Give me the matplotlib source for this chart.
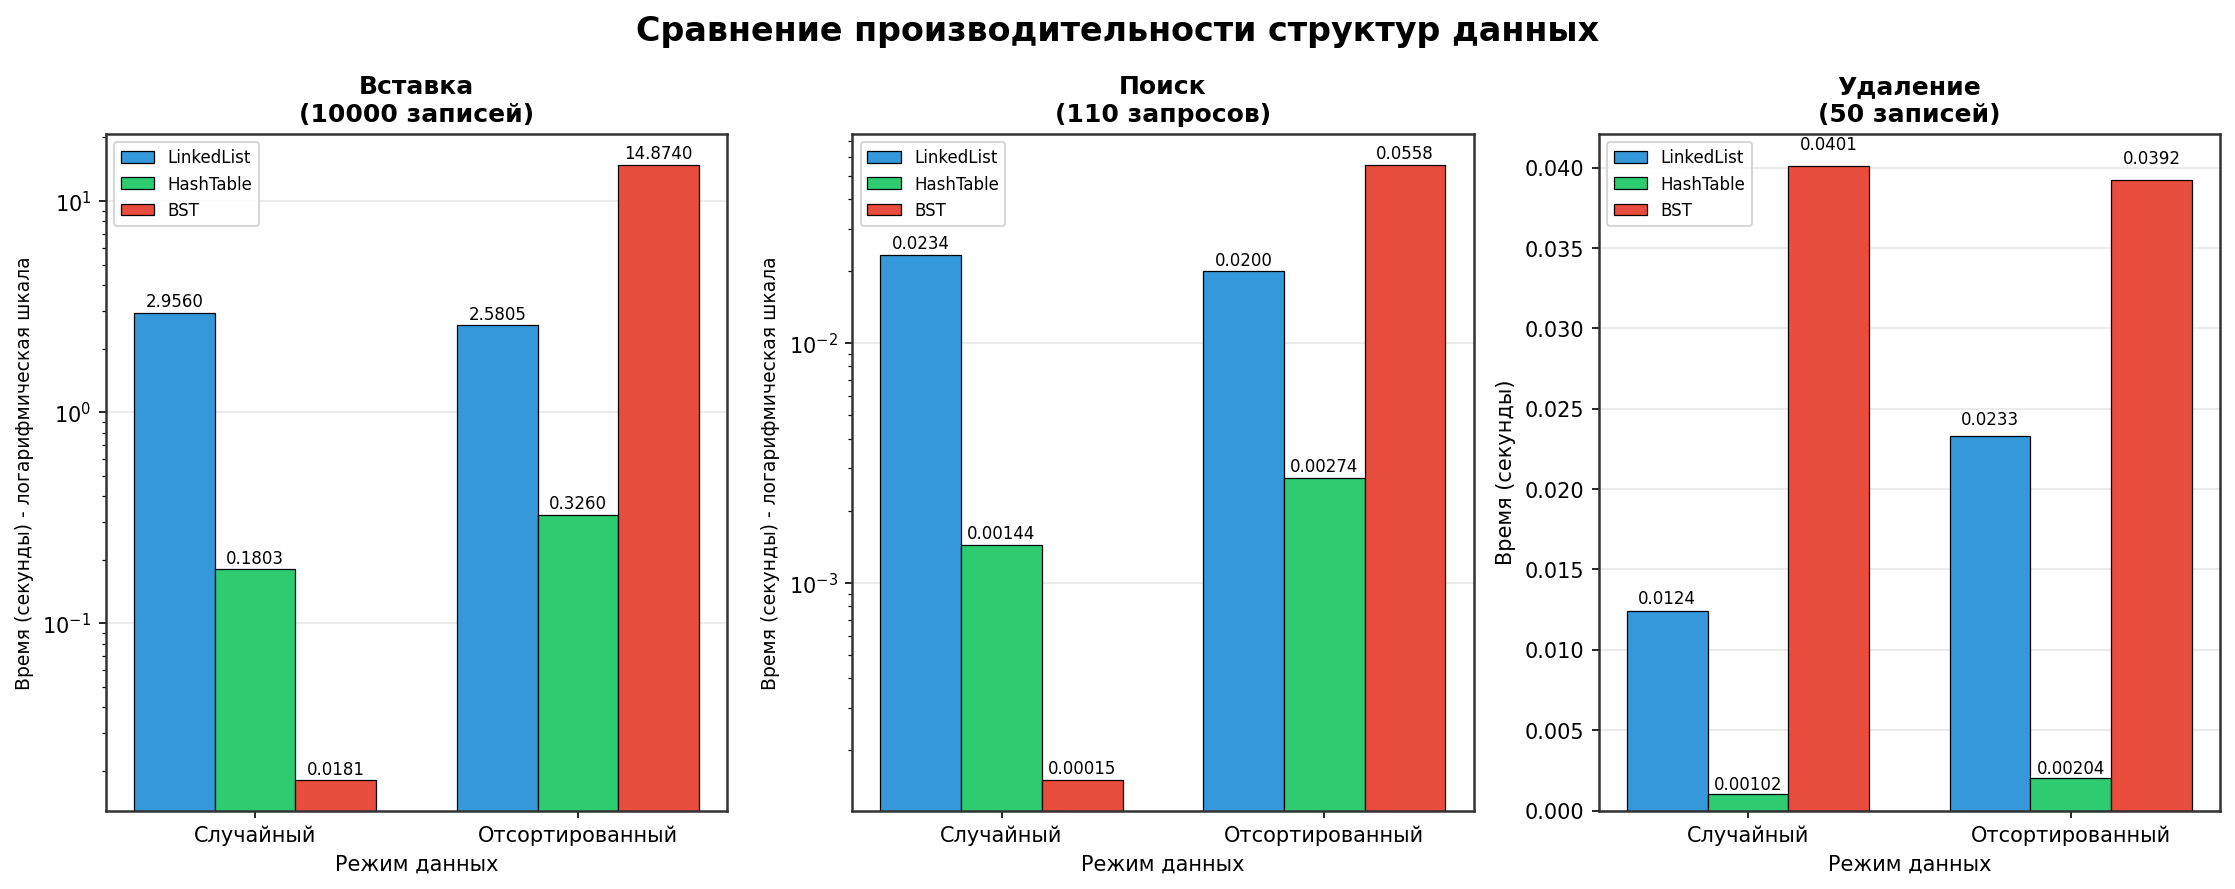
import numpy as np
import matplotlib
matplotlib.use("Agg")
import matplotlib.pyplot as plt

modes = ["Случайный", "Отсортированный"]
structures = ["LinkedList", "HashTable", "BST"]
colors = ["#3498db", "#2ecc71", "#e74c3c"]

titles = ["Вставка\n(10000 записей)", "Поиск\n(110 запросов)", "Удаление\n(50 записей)"]

insert_linked = [2.9560, 2.5805]
insert_hash = [0.1803, 0.3260]
insert_bst = [0.0181, 14.8740]

search_linked = [0.0234, 0.0200]
search_hash = [0.00144, 0.00274]
search_bst = [0.00015, 0.0558]

delete_linked = [0.0124, 0.0233]
delete_hash = [0.00102, 0.00204]
delete_bst = [0.0401, 0.0392]

panels = [
    [insert_linked, insert_hash, insert_bst],
    [search_linked, search_hash, search_bst],
    [delete_linked, delete_hash, delete_bst],
]
log_flags = [True, True, False]

fig, axes = plt.subplots(1, 3, figsize=(15, 6), dpi=150)
x = np.arange(len(modes))
w = 0.25


def fmt(v):
    return f"{v:.4f}" if v >= 0.01 else f"{v:.5f}"


for ax, title, series, is_log in zip(axes, titles, panels, log_flags):
    for i, (name, vals, c) in enumerate(zip(structures, series, colors)):
        bars = ax.bar(x + (i - 1) * w, vals, w, label=name, color=c,
                      edgecolor="black", linewidth=0.6)
        for b, v in zip(bars, vals):
            ax.text(b.get_x() + b.get_width() / 2, b.get_height() * 1.02, fmt(v),
                    ha="center", va="bottom", fontsize=8)
    if is_log:
        ax.set_yscale("log")
        ax.set_ylabel("Время (секунды) - логарифмическая шкала", fontsize=9)
    else:
        ax.set_ylabel("Время (секунды)", fontsize=10)
    ax.set_xlabel("Режим данных", fontsize=10)
    ax.set_title(title, fontsize=12, fontweight="bold")
    ax.set_xticks(x)
    ax.set_xticklabels(modes, fontsize=10)
    ax.grid(axis="y", alpha=0.3)
    ax.set_axisbelow(True)
    ax.legend(loc="upper left", fontsize=8)
    for s in ax.spines.values():
        s.set_color("#333333")
        s.set_linewidth(1.2)

fig.suptitle("Сравнение производительности структур данных", fontsize=16, fontweight="bold")
fig.tight_layout()
fig.savefig("out.png", dpi=150, bbox_inches="tight")
